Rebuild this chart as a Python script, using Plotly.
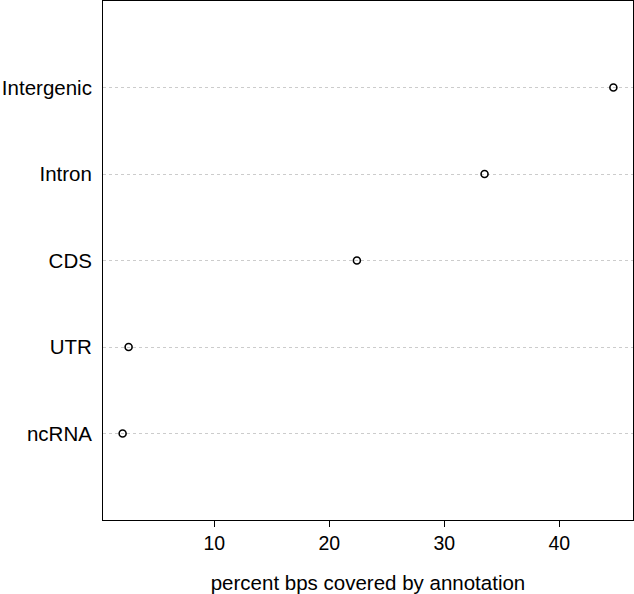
import plotly.graph_objects as go

categories = ["ncRNA", "UTR", "CDS", "Intron", "Intergenic"]
positions = [1, 2, 3, 4, 5]
percent = [2.03, 2.55, 22.4, 33.5, 44.7]
x_ticks = [10, 20, 30, 40]

fig = go.Figure()
fig.add_trace(go.Scatter(
    x=percent,
    y=positions,
    mode="markers",
    marker=dict(symbol="circle-open", size=7, color="black", line=dict(width=1.6, color="black")),
    showlegend=False,
))

lo, hi = min(percent), max(percent)
pad = (hi - lo) * 0.04

fig.update_layout(
    width=634,
    height=594,
    margin=dict(l=103, r=1, t=1, b=74),
    paper_bgcolor="white",
    plot_bgcolor="white",
    font=dict(family="Liberation Sans, Arial, sans-serif", size=20, color="black"),
    xaxis=dict(
        range=[lo - pad, hi + pad],
        tickvals=x_ticks,
        ticks="outside",
        ticklen=6,
        tickcolor="black",
        tickfont=dict(size=19.5),
        showgrid=False,
        zeroline=False,
        showline=True,
        linecolor="black",
        linewidth=1,
        mirror=True,
        automargin=False,
        title=dict(text="percent bps covered by annotation", standoff=22, font=dict(size=20.5)),
    ),
    yaxis=dict(
        range=[0, 6],
        tickvals=positions,
        ticktext=categories,
        ticks="",
        tickfont=dict(size=20.5),
        ticklabelstandoff=6,
        showgrid=True,
        gridcolor="#cccccc",
        griddash="dot",
        gridwidth=1,
        zeroline=False,
        showline=True,
        linecolor="black",
        linewidth=1,
        mirror=True,
        automargin=False,
    ),
)

# drop the browser's default 8px body margin so the figure sits at the page corner
fig.write_html(
    "out.html",
    config={"displayModeBar": False},
    post_script="document.body.style.margin='0';",
)
